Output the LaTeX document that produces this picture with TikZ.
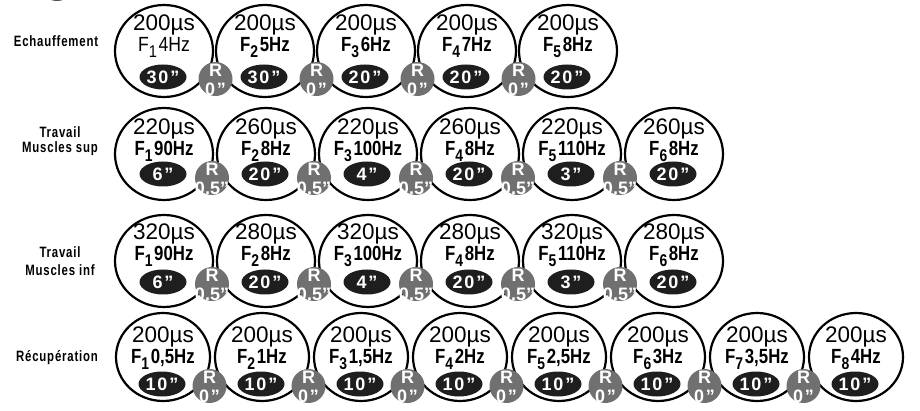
\documentclass[tikz,border=0pt]{standalone}
\usepackage{fontspec}
\setmainfont{Liberation Sans}
\usetikzlibrary{shapes.geometric}
\definecolor{rgray}{RGB}{112,112,112}
\definecolor{dblack}{RGB}{30,30,30}
\newcommand\FqB[2]{\scalebox{0.82}[1]{\bfseries F\raisebox{-6pt}{\fontsize{17pt}{17pt}\selectfont #1}\hspace{2pt}#2}}
\newcommand\FqR[2]{\scalebox{0.86}[1]{F\raisebox{-6pt}{\fontsize{17pt}{17pt}\selectfont #1}\hspace{2pt}#2}}
\newcommand\lbl[1]{\scalebox{0.76}[1]{\addfontfeature{LetterSpace=7}#1}}
\newcommand\wsp[1]{{\addfontfeature{LetterSpace=10}#1}}
\tikzset{
 big/.style={ellipse, draw, line width=2.2pt, minimum width=98pt, minimum height=92pt, inner sep=0pt},
 bigs/.style={big, minimum width=94pt, minimum height=88pt},
 rc/.style={circle, fill=rgray, minimum size=34pt, inner sep=0pt},
 dc/.style={ellipse, fill=dblack, minimum width=47pt, minimum height=25pt, inner sep=0pt},
 ust/.style={inner sep=0pt, font=\fontsize{22.5pt}{22.5pt}\selectfont, text height=16pt, text depth=0pt},
 frt/.style={inner sep=0pt, font=\fontsize{20.5pt}{20.5pt}\selectfont, text height=14.7pt, text depth=0pt},
 wt/.style={inner sep=0pt, text=white, font=\bfseries\fontsize{18pt}{18pt}\selectfont, text height=12.9pt, text depth=0pt},
 lab/.style={inner sep=0pt, font=\bfseries\fontsize{15pt}{15pt}\selectfont, text height=10.8pt, text depth=0pt},
}
\begin{document}
\begin{tikzpicture}[x=1pt,y=-1pt]
\useasboundingbox (0,0) rectangle (920,411);
\begin{scope}
\clip (0,0) rectangle (920,411);
\fill[rgray!70!black] (57,-18) circle (19pt);
\end{scope}
% labels
\node[lab] (l1) at (56,41) {\lbl{Echauffement}};
\node[lab] (l2a) at (60,132) {\lbl{Travail}};
\node[lab] (l2b) at (60,147) {\lbl{Muscles sup}};
\node[lab] (l3a) at (60,252) {\lbl{Travail}};
\node[lab] (l3b) at (60,270) {\lbl{Muscles inf}};
\node[lab] (l4) at (57,356) {\lbl{Récupération}};
% row 1
\foreach \i/\us/\w/\n/\hz/\d in {1/200/R/1/4Hz/30, 2/200/B/2/5Hz/30, 3/200/B/3/6Hz/20, 4/200/B/4/7Hz/20, 5/200/B/5/8Hz/20} {
 \pgfmathsetmacro\x{164+101*(\i-1)}
 \node[big] (a\i) at (\x,51) {};
 \node[ust] (au\i) at (\x,23) {\us µs};
 \node[frt] (af\i) at (\x,44) {\csname Fq\w\endcsname{\n}{\hz}};
 \node[dc] (ad\i) at (\x-1,77) {};
 \node[wt] (at\i) at (ad\i) {\wsp{\d”}};
}
% row 2
\foreach \i/\us/\n/\hz/\d in {1/220/1/90Hz/6, 2/260/2/8Hz/20, 3/220/3/100Hz/4, 4/260/4/8Hz/20, 5/220/5/110Hz/3, 6/260/6/8Hz/20} {
 \pgfmathsetmacro\x{164+102*(\i-1)}
 \node[big] (b\i) at (\x,154) {};
 \node[ust] (bu\i) at (\x,127) {\us µs};
 \node[frt] (bf\i) at (\x,148) {\FqB{\n}{\hz}};
 \node[dc] (bd\i) at (\x-1,174) {};
 \node[wt] (bt\i) at (bd\i) {\wsp{\d”}};
}
% row 3
\foreach \i/\us/\n/\hz/\d in {1/320/1/90Hz/6, 2/280/2/8Hz/20, 3/320/3/100Hz/4, 4/280/4/8Hz/20, 5/320/5/110Hz/3, 6/280/6/8Hz/20} {
 \pgfmathsetmacro\x{164+102*(\i-1)}
 \node[big] (c\i) at (\x,261) {};
 \node[ust] (cu\i) at (\x,232) {\us µs};
 \node[frt] (cf\i) at (\x,253) {\FqB{\n}{\hz}};
 \node[dc] (cd\i) at (\x-1,282) {};
 \node[wt] (ct\i) at (cd\i) {\wsp{\d”}};
}
% row 4
\foreach \i/\n/\hz in {1/1/{0,5Hz}, 2/2/1Hz, 3/3/{1,5Hz}, 4/4/2Hz, 5/5/{2,5Hz}, 6/6/3Hz, 7/7/{3,5Hz}, 8/8/4Hz} {
 \pgfmathsetmacro\x{163+99*(\i-1)}
 \node[bigs] (d\i) at (\x,357) {};
 \node[ust] (du\i) at (\x,334) {200µs};
 \node[frt] (df\i) at (\x,356) {\FqB{\n}{\hz}};
 \node[dc] (dd\i) at (\x-1,384) {};
 \node[wt] (dt\i) at (dd\i) {\wsp{10”}};
}
% rest circles
\foreach \i in {1,...,4} {
 \pgfmathsetmacro\x{164+101*(\i-1)+50.5+1}
 \node[rc] (ar\i) at (\x,79) {};
 \node[wt] (arR\i) at (\x,70) {R};
 \node[wt] (arV\i) at (\x,89) {\wsp{0”}};
}
\foreach \i in {1,...,5} {
 \pgfmathsetmacro\x{164+102*(\i-1)+51-3}
 \node[rc] (br\i) at (\x,178) {};
 \node[wt] (brR\i) at (\x,169) {R};
 \node[wt] (brV\i) at (\x,188) {0.5”};
 \node[rc] (cr\i) at (\x,284) {};
 \node[wt] (crR\i) at (\x,275) {R};
 \node[wt] (crV\i) at (\x,294) {0.5”};
}
\foreach \i in {1,...,7} {
 \pgfmathsetmacro\x{163+99*(\i-1)+49.5-3}
 \node[rc] (dr\i) at (\x,386) {};
 \node[wt] (drR\i) at (\x,377) {R};
 \node[wt] (drV\i) at (\x,396) {\wsp{0”}};
}
\end{tikzpicture}
\end{document}
